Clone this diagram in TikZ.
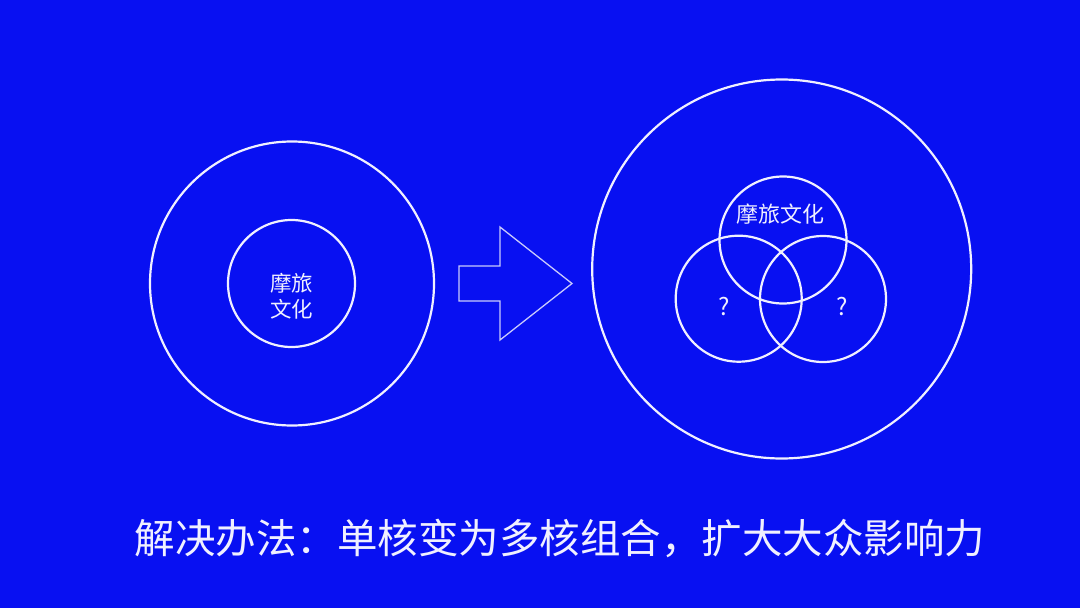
\documentclass[tikz,border=0pt]{standalone}
\usepackage{fontspec}
\setmainfont{Noto Sans CJK SC}
\definecolor{bgblue}{RGB}{8,16,242}
\definecolor{linewhite}{RGB}{240,240,255}
\begin{document}
\begin{tikzpicture}[x=1pt,y=-1pt,
  ring/.style={circle, draw=linewhite, line width=2.2pt, inner sep=0pt},
  lbl/.style={text=linewhite, inner sep=0pt, font=\fontsize{22}{26}\selectfont},
  arrowline/.style={draw=white!78!bgblue, line width=1.3pt, line join=miter}]
\fill[bgblue] (0,0) rectangle (1080,608);
\useasboundingbox (0,0) rectangle (1080,608);
% left
\node[ring, minimum size=284pt] (Louter) at (292,283.5) {};
\node[ring, minimum size=127pt] (Linner) at (291.5,283.5) {};
\node[lbl, align=center, font=\fontsize{21.5}{26.5}\selectfont] (Ltext) at (291.7,296) {摩旅\\文化};
% arrow
\coordinate (a1) at (459,266);
\coordinate (a2) at (500,266);
\coordinate (a3) at (500,227);
\coordinate (a4) at (572,283.5);
\coordinate (a5) at (500,340);
\coordinate (a6) at (500,301);
\coordinate (a7) at (459,301);
\draw[arrowline] (a1) -- (a2) -- (a3) -- (a4) -- (a5) -- (a6) -- (a7) -- cycle;
% right
\node[ring, minimum size=379pt] (Router) at (781.7,269) {};
\node[ring, minimum size=127pt] (Vtop) at (783,240) {};
\node[ring, minimum size=126pt] (Vleft) at (738.7,298.7) {};
\node[ring, minimum size=126pt] (Vright) at (823,299) {};
\node[lbl] (Ttop) at (780,214.3) {摩旅文化};
\node[lbl, font=\fontsize{24}{28}\selectfont] (Qleft) at (724.5,306.7) {?};
\node[lbl, font=\fontsize{24}{28}\selectfont] (Qright) at (842.5,306.7) {?};
% bottom caption
\node[lbl, font=\fontsize{40.5}{48}\selectfont] (caption) at (560,538) {解决办法：单核变为多核组合，扩大大众影响力};
\end{tikzpicture}
\end{document}
